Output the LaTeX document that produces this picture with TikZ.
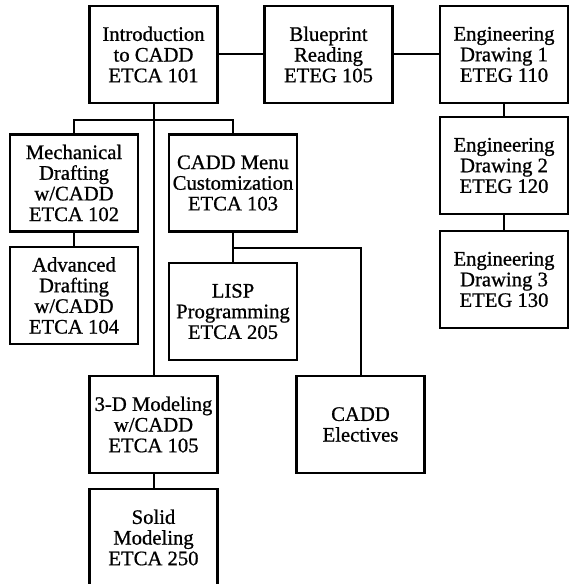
\documentclass[tikz,border=0pt]{standalone}
\usepackage{fontspec}
\setmainfont[FakeBold=0.8]{Liberation Serif}
\tikzset{
  course/.style={draw,line width=1.6pt,minimum width=96pt,minimum height=72.75pt,
    align=center,inner sep=0pt,font=\fontsize{15.5pt}{15.5pt}\selectfont},
  link/.style={line width=1.5pt}
}
\begin{document}
\begin{tikzpicture}[x=0.75pt,y=-0.75pt]
        \useasboundingbox (0,0) rectangle (569,584);
        \clip (0,0) rectangle (569,584);
        %% top row
        \node[course] (intro) at (153.5,54.5) {Introduction\\to CADD\\ETCA 101};
        \node[course] (blue) at (328.5,54.5) {Blueprint\\Reading\\ETEG 105};
        \node[course] (eng1) at (504,54.5) {Engineering\\Drawing 1\\ETEG 110};
        %% engineering drawing column
        \node[course] (eng2) at (504,165.5) {Engineering\\Drawing 2\\ETEG 120};
        \node[course] (eng3) at (504,279.5) {Engineering\\Drawing 3\\ETEG 130};
        %% CADD branches
        \node[course] (mech) at (74,183) {Mechanical\\Drafting\\w/CADD\\ETCA 102};
        \node[course] (menu) at (233,183) {CADD Menu\\Customization\\ETCA 103};
        \node[course] (adv) at (74,295.5) {Advanced\\Drafting\\w/CADD\\ETCA 104};
        \node[course] (lisp) at (233,311.5) {LISP\\Programming\\ETCA 205};
        \node[course] (model) at (153.5,424.5) {3-D Modeling\\w/CADD\\ETCA 105};
        \node[course] (elect) at (360.5,424.5) {CADD\\Electives};
        \node[course] (solid) at (153.5,537.5) {Solid\\Modeling\\ETCA 250};
        %% connectors
        \coordinate (bar) at (0,120);
        \coordinate (split) at (0,248);
        \draw[link] (intro) -- (blue);
        \draw[link] (blue) -- (eng1);
        \draw[link] (eng1) -- (eng2);
        \draw[link] (eng2) -- (eng3);
        \draw[link] (intro) -- (model);
        \draw[link] (mech.north) -- (mech.north |- bar) -| (menu.north);
        \draw[link] (mech) -- (adv);
        \draw[link] (menu) -- (lisp);
        \draw[link] (menu.south |- split) -| (elect.north);
        \draw[link] (model) -- (solid);
    \end{tikzpicture}
\end{document}
